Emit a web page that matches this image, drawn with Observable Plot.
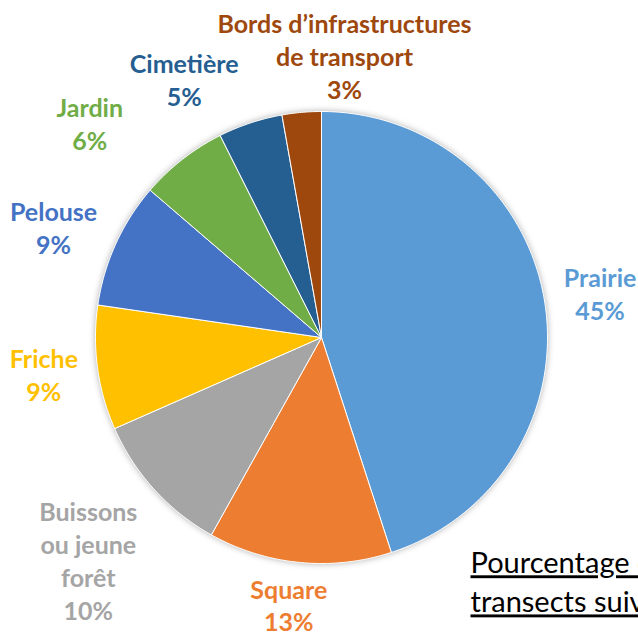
<!DOCTYPE html>
<html><head><meta charset="utf-8">
<script src="https://cdn.jsdelivr.net/npm/d3@7"></script>
<script src="https://cdn.jsdelivr.net/npm/@observablehq/plot@0.6"></script>
<style>body{margin:0;background:#fff;overflow:hidden}</style>
</head><body><div id="chart"></div>
<script>
// ---- data ----
const categories = ["Prairie","Square","Buissons ou jeune forêt","Friche","Pelouse","Jardin","Cimetière","Bords d’infrastructures de transport"];
const labelLines = [["Prairie"],["Square"],["Buissons","ou jeune","forêt"],["Friche"],["Pelouse"],["Jardin"],["Cimetière"],["Bords d’infrastructures","de transport"]];
const shares = [45.0, 13.1, 10.3, 8.9, 9.0, 6.3, 4.6, 2.8];
const percentLabels = ["45%","13%","10%","9%","9%","6%","5%","3%"];
const colors = ["#5B9BD5","#ED7D31","#A5A5A5","#FFC000","#4472C4","#70AD47","#255E91","#9E480E"];
const captionLines = ["Pourcentage des", "transects suivis"];

// ---- layout (label placement tweaks, like manually moved Excel labels) ----
const W = 638, H = 632, CX = 321, CY = 337, R = 226;
const labelShiftDeg = [0, 1.4, -1.3, 0.3, -2, -9.2, -9.6, 9.7];
const labelDist = [1.248, 1.19, 1.425, 1.239, 1.283, 1.398, 1.296, 1.252];

const total = d3.sum(shares);
let acc = 0;
const slices = shares.map((v, i) => {
  const a0 = acc / total * 2 * Math.PI;
  acc += v;
  const a1 = acc / total * 2 * Math.PI;
  return {i, name: categories[i], a0, a1, color: colors[i]};
});
const polyPts = [];
for (const s of slices) {
  polyPts.push({name: s.name, color: s.color, x: 0, y: 0});
  const n = Math.max(4, Math.ceil((s.a1 - s.a0) / 0.01));
  for (let k = 0; k <= n; k++) {
    const a = s.a0 + (s.a1 - s.a0) * k / n;
    polyPts.push({name: s.name, color: s.color, x: Math.sin(a), y: Math.cos(a)});
  }
  polyPts.push({name: s.name, color: s.color, x: 0, y: 0});
}
const labels = slices.map(s => {
  const a = (s.a0 + s.a1) / 2 + labelShiftDeg[s.i] * Math.PI / 180;
  const d = labelDist[s.i];
  return {x: d * Math.sin(a), y: d * Math.cos(a), text: labelLines[s.i].concat([percentLabels[s.i]]).join("\n"), color: s.color};
});
// pixel -> data helpers for the caption
const px = p => (p - CX) / R, py = p => (CY - p) / R;
const caption = [{x: px(470), y: py(545), text: captionLines.join("\n")}];

const chart = Plot.plot({
  width: W, height: H,
  margin: 0,
  x: {domain: [px(0), px(W)], axis: null},
  y: {domain: [py(H), py(0)], axis: null},
  color: {type: "identity"},
  style: {background: "#fff"},
  marks: [
    Plot.line(polyPts, {x: "x", y: "y", z: "name", fill: "color", stroke: "#fff", strokeWidth: 1, strokeLinejoin: "round", curve: "linear"}),
    Plot.text(labels, {x: "x", y: "y", text: "text", fill: "color", fontSize: 25, fontWeight: "bold", fontFamily: "Lato, 'Open Sans', sans-serif", lineHeight: 1.32, lineAnchor: "middle", textAnchor: "middle"}),
    Plot.text(caption, {x: "x", y: "y", text: "text", fill: "#000", fontSize: 29, fontFamily: "Lato, 'Open Sans', sans-serif", lineHeight: 1.35, lineAnchor: "top", textAnchor: "start"})
  ]
});
const g = chart.querySelector('g[aria-label="line"]');
if (g) g.style.filter = "drop-shadow(0 0 3px rgba(0,0,0,0.3))";
const texts = chart.querySelectorAll('g[aria-label="text"]');
if (texts.length > 1) {
  const t = texts[texts.length - 1];
  t.style.textDecoration = "underline";
  t.style.textDecorationThickness = "2.5px";
}
document.getElementById("chart").appendChild(chart);
</script>
</body></html>
